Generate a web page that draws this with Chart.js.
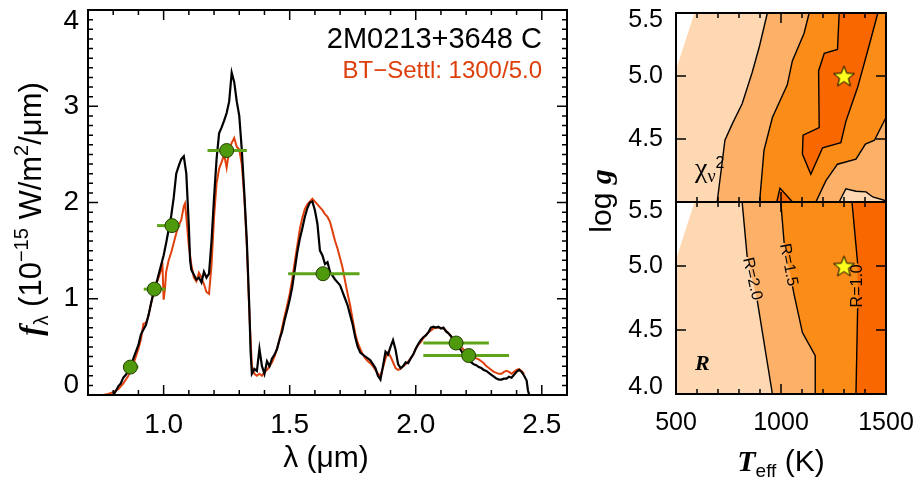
<!DOCTYPE html>
<html>
<head>
<meta charset="utf-8">
<script src="https://cdn.jsdelivr.net/npm/chart.js@4.4.1/dist/chart.umd.min.js"></script>
<style>
  html, body { margin: 0; padding: 0; background: #fff; }
  canvas { position: absolute; left: 0; top: 0; }
</style>
</head>
<body>
<canvas id="specChart" width="921" height="479"></canvas>
<canvas id="chiChart" width="921" height="479"></canvas>
<canvas id="radChart" width="921" height="479"></canvas>
<script>
// ---- spectrum panel data (lambda in micron, flux in 1e-15 W/m2/micron)
const observedSpectrum = [
  [0.80,0.00],[0.81,0.04],[0.82,0.09],[0.83,0.12],[0.84,0.18],[0.85,0.21],[0.86,0.25],[0.87,0.28],
  [0.88,0.38],[0.89,0.45],[0.90,0.52],[0.91,0.63],[0.92,0.68],[0.93,0.73],[0.94,0.83],[0.95,0.95],
  [0.96,1.07],[0.97,1.15],[0.98,1.25],[0.99,1.35],[1.00,1.45],[1.01,1.58],[1.02,1.72],[1.03,1.86],
  [1.04,2.05],[1.05,2.30],[1.06,2.38],[1.07,2.45],[1.08,2.48],[1.09,2.30],[1.10,1.75],[1.105,1.40],
  [1.11,1.30],[1.12,1.25],[1.13,1.20],[1.14,1.22],[1.15,1.17],[1.16,1.28],[1.17,1.22],[1.18,1.26],
  [1.19,1.60],[1.20,2.05],[1.21,2.45],[1.22,2.72],[1.23,2.78],[1.24,2.85],[1.25,2.93],[1.26,3.05],
  [1.27,3.35],[1.28,3.25],[1.29,3.05],[1.30,2.90],[1.31,2.55],[1.32,2.10],[1.33,1.60],[1.34,0.90],
  [1.345,0.45],[1.35,0.22],[1.36,0.27],[1.37,0.25],[1.38,0.48],[1.39,0.30],[1.40,0.22],[1.41,0.35],
  [1.42,0.30],[1.43,0.38],[1.44,0.42],[1.45,0.48],[1.46,0.58],[1.47,0.66],[1.48,0.78],[1.49,0.88],
  [1.50,0.99],[1.51,1.12],[1.52,1.30],[1.53,1.48],[1.54,1.62],[1.55,1.73],[1.56,1.85],[1.57,1.94],
  [1.58,2.00],[1.59,2.01],[1.60,1.92],[1.61,1.78],[1.62,1.50],[1.63,1.45],[1.64,1.36],[1.65,1.38],
  [1.66,1.28],[1.67,1.24],[1.68,1.20],[1.69,1.17],[1.70,1.14],[1.71,1.07],[1.72,1.00],[1.73,0.93],
  [1.74,0.83],[1.75,0.73],[1.76,0.60],[1.77,0.50],[1.78,0.44],[1.79,0.42],[1.80,0.40],[1.81,0.38],
  [1.82,0.36],[1.83,0.32],[1.84,0.28],[1.85,0.20],[1.86,0.16],[1.87,0.30],[1.88,0.45],[1.89,0.42],
  [1.90,0.50],[1.91,0.57],[1.92,0.47],[1.93,0.32],[1.94,0.28],[1.95,0.30],[1.96,0.34],[1.97,0.33],
  [1.98,0.38],[1.99,0.42],[2.00,0.48],[2.01,0.53],[2.02,0.57],[2.03,0.60],[2.04,0.62],[2.05,0.65],
  [2.06,0.70],[2.07,0.71],[2.08,0.70],[2.09,0.71],[2.10,0.69],[2.11,0.70],[2.12,0.66],[2.13,0.64],
  [2.14,0.61],[2.15,0.57],[2.16,0.53],[2.17,0.50],[2.18,0.46],[2.19,0.42],[2.20,0.38],[2.21,0.36],
  [2.22,0.34],[2.23,0.32],[2.24,0.31],[2.25,0.29],[2.26,0.28],[2.27,0.26],[2.28,0.25],[2.29,0.23],
  [2.30,0.21],[2.31,0.19],[2.32,0.17],[2.33,0.16],[2.34,0.16],[2.35,0.17],[2.36,0.17],[2.37,0.19],
  [2.38,0.18],[2.39,0.21],[2.40,0.24],[2.41,0.26],[2.42,0.24],[2.43,0.20],[2.44,0.15],[2.445,0.05],[2.45,0.00]
];
const modelSpectrum = [
  [0.76,0.00],[0.78,0.01],[0.80,0.03],[0.82,0.06],[0.84,0.12],[0.86,0.20],[0.88,0.32],[0.90,0.48],
  [0.91,0.58],[0.92,0.74],[0.93,0.75],[0.94,0.82],[0.95,0.95],[0.96,1.05],[0.97,1.14],[0.98,1.22],
  [0.99,1.30],[0.995,1.38],[1.00,0.99],[1.005,1.10],[1.01,1.28],[1.02,1.40],[1.03,1.48],[1.04,1.58],
  [1.05,1.68],[1.06,1.76],[1.07,1.82],[1.08,1.96],[1.085,1.99],[1.09,1.85],[1.10,1.55],[1.11,1.35],
  [1.12,1.22],[1.13,1.18],[1.14,1.27],[1.15,1.22],[1.16,1.15],[1.17,1.07],[1.18,1.05],[1.19,1.35],
  [1.20,1.85],[1.21,2.20],[1.22,2.35],[1.23,2.42],[1.24,2.50],[1.25,2.36],[1.26,2.55],[1.27,2.62],
  [1.28,2.67],[1.29,2.58],[1.30,2.55],[1.31,2.40],[1.32,2.05],[1.33,1.55],[1.34,0.85],[1.35,0.30],
  [1.36,0.22],[1.37,0.20],[1.38,0.22],[1.39,0.20],[1.40,0.24],[1.41,0.26],[1.42,0.30],[1.43,0.34],
  [1.44,0.40],[1.45,0.48],[1.46,0.58],[1.47,0.70],[1.48,0.82],[1.49,0.93],[1.50,1.05],[1.51,1.20],
  [1.52,1.38],[1.53,1.55],[1.54,1.72],[1.55,1.84],[1.56,1.93],[1.57,1.98],[1.58,2.01],[1.59,2.04],
  [1.60,2.01],[1.61,1.98],[1.62,1.95],[1.63,1.92],[1.64,1.88],[1.65,1.85],[1.66,1.80],[1.67,1.70],
  [1.68,1.60],[1.69,1.52],[1.70,1.42],[1.71,1.32],[1.72,1.18],[1.73,1.05],[1.74,0.93],[1.75,0.78],
  [1.76,0.64],[1.77,0.54],[1.78,0.48],[1.79,0.42],[1.80,0.38],[1.81,0.35],[1.82,0.33],[1.83,0.30],
  [1.84,0.26],[1.85,0.22],[1.86,0.20],[1.87,0.28],[1.88,0.38],[1.89,0.44],[1.90,0.40],[1.91,0.34],
  [1.92,0.28],[1.93,0.26],[1.94,0.27],[1.95,0.30],[1.96,0.32],[1.97,0.35],[1.98,0.38],[1.99,0.42],
  [2.00,0.48],[2.01,0.52],[2.02,0.55],[2.03,0.59],[2.04,0.62],[2.05,0.65],[2.06,0.67],[2.07,0.69],
  [2.08,0.70],[2.09,0.70],[2.10,0.70],[2.11,0.69],[2.12,0.67],[2.13,0.64],[2.14,0.61],[2.15,0.58],
  [2.16,0.55],[2.17,0.52],[2.18,0.50],[2.19,0.47],[2.20,0.44],[2.21,0.42],[2.22,0.40],[2.23,0.39],
  [2.24,0.38],[2.25,0.37],[2.26,0.35],[2.27,0.33],[2.28,0.30],[2.29,0.28],[2.30,0.26],[2.31,0.24],
  [2.32,0.23],[2.33,0.22],[2.34,0.22],[2.35,0.24],[2.36,0.25],[2.37,0.24],[2.38,0.22],[2.39,0.24],
  [2.40,0.26],[2.41,0.27],[2.42,0.25],[2.43,0.22]
];
const photLam  = [0.868, 0.963, 1.033, 1.250, 1.632, 2.160, 2.210];
const photFlux = [0.29, 1.10, 1.76, 2.54, 1.26, 0.54, 0.41];
const photLo   = [0.855, 0.921, 0.974, 1.174, 1.494, 2.030, 2.030];
const photHi   = [0.900, 1.007, 1.066, 1.330, 1.777, 2.290, 2.370];

const specXTicks = [1.0, 1.5, 2.0, 2.5];
const specYTickAt = [0.1, 1, 2, 3, 3.88];
const specYTickText = ['0', '1', '2', '3', '4'];

// ---- grid panels (Teff in K, log g)
const teffTicks = [500, 1000, 1500];
const chiYTickAt = [4.5, 5.0, 5.445];
const chiYTickText = ['4.5', '5.0', '5.5'];
const radYTickAt = [4.05, 4.5, 5.0, 5.43];
const radYTickText = ['4.0', '4.5', '5.0', '5.5'];

const gridOutline = [[500,4.0],[500,5.05],[588,5.5],[1500,5.5],[1500,4.0]];

const chiLineA = [[696,4.0],[733,4.49],[768,4.62],[815,4.78],[863,5.03],[898,5.24],[935,5.5]];
const chiLineB = [[898,4.0],[919,4.41],[959,4.67],[1030,4.93],[1054,5.12],[1110,5.34],[1134,5.5]];
const chiIsland = [[1277,5.5],[1269,5.21],[1206,5.18],[1179,5.04],[1182,4.59],[1105,4.53],[1102,4.38],
  [1142,4.22],[1198,4.43],[1285,4.47],[1309,4.64],[1365,4.91],[1421,5.25],[1461,5.5]];
const chiSpike = [[980,4.0],[995,4.11],[1055,4.0]];
const chiLineD = [[1500,4.67],[1445,4.49],[1402,4.46],[1357,4.34],[1269,4.30],[1214,4.17],[1166,4.0]];
const chiLowPeach = [[1277,4.0],[1309,4.105],[1357,4.085],[1405,4.08],[1437,4.04],[1500,4.01]];

const radLine20 = [[815,5.5],[839,5.07],[887,4.73],[959,4.0]];
const radLine15 = [[999,5.5],[1015,5.18],[1055,4.84],[1062,4.78],[1102,4.48],[1163,4.30],[1163,4.0]];
const radLine10 = [[1338,5.5],[1365,5.02],[1365,4.67],[1357,4.0]];

const bestFit = [[1300, 5.0]];

const SANS = "'Liberation Sans', Arial, sans-serif";
const SERIF = "'Liberation Serif', 'Times New Roman', serif";
const PEACH = '#FDD8B2', LIGHT = '#FDB068', MID = '#FC8C18', DARK = '#F86700';

const pts = arr => arr.map(([x, y]) => ({ x, y }));
const rightOf = line => line.concat([[1500, line[line.length - 1][1]], [1500, line[0][1]]]);
const range = (a, b, s) => { const out = []; for (let v = a; v <= b + s / 2; v += s) out.push(+v.toFixed(4)); return out; };

function drawRich(ctx, parts, x, y, angle, align) {
  ctx.save();
  ctx.translate(x, y);
  ctx.rotate(angle);
  ctx.textBaseline = 'alphabetic';
  ctx.textAlign = 'left';
  let w = 0;
  parts.forEach(p => { ctx.font = p.font; w += ctx.measureText(p.t).width; });
  let cx = align === 'center' ? -w / 2 : align === 'right' ? -w : 0;
  parts.forEach(p => {
    ctx.font = p.font;
    ctx.fillStyle = p.color || '#000';
    ctx.fillText(p.t, cx, p.dy || 0);
    cx += ctx.measureText(p.t).width;
  });
  ctx.restore();
}

// inward ticks + box, drawn from the chart's scales
function makeFrame(cfg) {
  return {
    id: 'frame',
    afterDatasetsDraw(chart) {
      const { ctx, chartArea: a, scales: { x, y } } = chart;
      ctx.save();
      ctx.strokeStyle = '#000';
      ctx.lineWidth = 1.5;
      ctx.beginPath();
      const xt = (vals, len) => vals.forEach(v => {
        const px = x.getPixelForValue(v);
        ctx.moveTo(px, a.bottom); ctx.lineTo(px, a.bottom - len);
        ctx.moveTo(px, a.top); ctx.lineTo(px, a.top + len);
      });
      const yt = (vals, len) => vals.forEach(v => {
        const py = y.getPixelForValue(v);
        ctx.moveTo(a.left, py); ctx.lineTo(a.left + len, py);
        ctx.moveTo(a.right, py); ctx.lineTo(a.right - len, py);
      });
      xt(cfg.xMinor || [], 5); xt(cfg.xMajor || [], 10);
      yt(cfg.yMinor || [], 5); yt(cfg.yMajor || [], 10);
      ctx.stroke();
      ctx.lineWidth = 2;
      ctx.strokeRect(a.left, a.top, a.width, a.height);
      ctx.restore();
    }
  };
}

function makeNotes(items, lineLabels) {
  return {
    id: 'notes',
    afterDraw(chart) {
      const { ctx, scales: { x, y } } = chart;
      items.forEach(it => {
        const px = it.data ? x.getPixelForValue(it.x) : it.x;
        const py = it.data ? y.getPixelForValue(it.y) : it.y;
        drawRich(ctx, it.parts, px, py, it.angle || 0, it.align || 'left');
      });
      (lineLabels || []).forEach(lb => {
        const x1 = x.getPixelForValue(lb.from[0]), y1 = y.getPixelForValue(lb.from[1]);
        const x2 = x.getPixelForValue(lb.to[0]), y2 = y.getPixelForValue(lb.to[1]);
        ctx.save();
        ctx.translate((x1 + x2) / 2, (y1 + y2) / 2);
        ctx.rotate(Math.atan2(y2 - y1, x2 - x1));
        ctx.font = '16px ' + SANS;
        ctx.fillStyle = '#000';
        ctx.textAlign = 'center';
        ctx.textBaseline = 'middle';
        ctx.fillText(lb.text, 0, 0);
        ctx.restore();
      });
    }
  };
}

function starImage(size) {
  const c = document.createElement('canvas');
  c.width = c.height = size;
  const g = c.getContext('2d');
  const r = size / 2 - 1.5, r2 = r * 0.42;
  g.beginPath();
  for (let i = 0; i < 10; i++) {
    const rr = i % 2 ? r2 : r, ang = -Math.PI / 2 + i * Math.PI / 5;
    g.lineTo(size / 2 + rr * Math.cos(ang), size / 2 + 1 + rr * Math.sin(ang));
  }
  g.closePath();
  g.fillStyle = '#FFFF1E';
  g.fill();
  g.strokeStyle = '#000';
  g.lineWidth = 1;
  g.stroke();
  return c;
}
const star = starImage(25);

function withOrder(list) {
  return list.map((d, i) => Object.assign({ order: list.length - i, pointRadius: 0, tension: 0 }, d));
}
const polygon = (arr, color) => ({ data: pts(arr), fill: 'shape', backgroundColor: color, borderColor: 'rgba(0,0,0,0)', borderWidth: 0 });
const contour = (arr, gap) => ({
  data: pts(arr), fill: false, borderColor: '#000', borderWidth: 1.4,
  segment: gap === undefined ? undefined : { borderColor: c => c.p0DataIndex === gap ? 'rgba(0,0,0,0)' : '#000' }
});
const starSet = { data: pts(bestFit), showLine: false, pointStyle: star, pointRadius: 12 };

const noPad = s => { s.paddingTop = 0; s.paddingBottom = 0; s.paddingLeft = 0; s.paddingRight = 0; };
const baseOpts = {
  responsive: false, animation: false, events: [],
  plugins: { legend: { display: false }, tooltip: { enabled: false } }
};

// ---------------- spectrum
const specSets = [
  { data: pts(modelSpectrum), borderColor: '#E0400B', borderWidth: 2 },
  { data: pts(observedSpectrum), borderColor: '#000', borderWidth: 2.2 }
];
photLam.forEach((l, i) => specSets.push({
  data: [{ x: photLo[i], y: photFlux[i] }, { x: photHi[i], y: photFlux[i] }],
  borderColor: '#5FA318', borderWidth: 3
}));
specSets.push({
  data: photLam.map((l, i) => ({ x: l, y: photFlux[i] })), showLine: false,
  pointRadius: 7, pointBackgroundColor: '#4E9A0C', pointBorderColor: '#233F00', pointBorderWidth: 1
});

new Chart(document.getElementById('specChart'), {
  type: 'line',
  data: { datasets: withOrder(specSets) },
  options: Object.assign({}, baseOpts, {
    layout: { padding: { top: 10, right: 921 - 567, left: 0, bottom: 0 } },
    scales: {
      x: {
        type: 'linear', min: 0.7, max: 2.6,
        afterBuildTicks: s => { s.ticks = specXTicks.map(v => ({ value: v })); },
        afterFit: s => { s.height = 479 - 395; noPad(s); },
        grid: { display: false, drawTicks: false }, border: { display: false },
        ticks: { font: { size: 28, family: SANS }, color: '#000', padding: 13, maxRotation: 0, autoSkip: false,
                 callback: v => v.toFixed(1) }
      },
      y: {
        type: 'linear', min: 0, max: 4,
        afterBuildTicks: s => { s.ticks = specYTickAt.map(v => ({ value: v })); },
        afterFit: s => { s.width = 88; noPad(s); },
        grid: { display: false, drawTicks: false }, border: { display: false },
        ticks: { font: { size: 28, family: SANS }, color: '#000', padding: 9, autoSkip: false,
                 callback: (v, i) => specYTickText[i] }
      }
    }
  }),
  plugins: [
    makeFrame({ xMajor: specXTicks, xMinor: range(0.7, 2.6, 0.1), yMajor: [1, 2, 3], yMinor: range(0, 4, 0.1) }),
    makeNotes([
      { x: 542, y: 48, align: 'right', parts: [{ t: '2M0213+3648 C', font: '29px ' + SANS }] },
      { x: 542, y: 78, align: 'right', parts: [{ t: 'BT\u2212Settl: 1300/5.0', font: '24px ' + SANS, color: '#DD3F0A' }] },
      { x: 326, y: 467, align: 'center', parts: [{ t: '\u03bb (\u03bcm)', font: '30px ' + SANS }] },
      { x: 41, y: 209, align: 'center', angle: -Math.PI / 2, parts: [
        { t: 'f', font: 'italic bold 31px ' + SERIF },
        { t: '\u03bb', font: '20px ' + SANS, dy: 7 },
        { t: ' (10', font: '31px ' + SANS },
        { t: '\u221215', font: '20px ' + SANS, dy: -13 },
        { t: ' W/m', font: '31px ' + SANS },
        { t: '2', font: '20px ' + SANS, dy: -13 },
        { t: '/\u03bcm)', font: '31px ' + SANS }
      ] }
    ])
  ]
});

// ---------------- chi2 grid (top right)
const chiSets = [
  polygon(gridOutline, PEACH),
  polygon(rightOf(chiLineA), LIGHT),
  polygon(rightOf(chiLineB), MID),
  polygon(chiIsland, DARK),
  polygon(chiSpike, DARK),
  polygon(rightOf(chiLineD), LIGHT),
  polygon(rightOf(chiLowPeach), PEACH),
  contour(chiLineA), contour(chiLineB), contour(chiIsland), contour(chiSpike),
  contour(chiLineD), contour(chiLowPeach),
  starSet
];

const gridScales = (yAt, yText, showX) => ({
  x: {
    type: 'linear', min: 500, max: 1500, display: showX,
    afterBuildTicks: s => { s.ticks = teffTicks.map(v => ({ value: v })); },
    afterFit: s => { s.height = showX ? 479 - 394 : 0; noPad(s); },
    grid: { display: false, drawTicks: false }, border: { display: false },
    ticks: { font: { size: 25, family: SANS }, color: '#000', padding: 14, maxRotation: 0, autoSkip: false,
             callback: v => String(v) }
  },
  y: {
    type: 'linear', min: 4.0, max: 5.5,
    afterBuildTicks: s => { s.ticks = yAt.map(v => ({ value: v })); },
    afterFit: s => { s.width = 76; noPad(s); },
    grid: { display: false, drawTicks: false }, border: { display: false },
    ticks: { font: { size: 25, family: SANS }, color: '#000', padding: 13, autoSkip: false,
             callback: (v, i) => yText[i] }
  }
});

new Chart(document.getElementById('chiChart'), {
  type: 'line',
  data: { datasets: withOrder(chiSets) },
  options: Object.assign({}, baseOpts, {
    layout: { padding: { top: 10, right: 921 - 886, left: 600, bottom: 479 - 202 } },
    scales: gridScales(chiYTickAt, chiYTickText, false)
  }),
  plugins: [
    makeFrame({ xMinor: range(500, 1500, 100), xMajor: teffTicks, yMajor: [4.5, 5.0] }),
    makeNotes([
      { x: 695, y: 177, parts: [
        { t: '\u03c7', font: '28px ' + SERIF },
        { t: '\u03bd', font: '18px ' + SERIF, dy: 5 },
        { t: '2', font: '16px ' + SANS, dy: -9 }
      ] }
    ])
  ]
});

// ---------------- radius grid (bottom right)
const radSets = [
  polygon(gridOutline, PEACH),
  polygon(rightOf(radLine20), LIGHT),
  polygon(rightOf(radLine15), MID),
  polygon(rightOf(radLine10), DARK),
  contour(radLine20, 1), contour(radLine15, 1), contour(radLine10, 1),
  starSet
];

new Chart(document.getElementById('radChart'), {
  type: 'line',
  data: { datasets: withOrder(radSets) },
  options: Object.assign({}, baseOpts, {
    layout: { padding: { top: 202, right: 921 - 886, left: 600, bottom: 0 } },
    scales: gridScales(radYTickAt, radYTickText, true)
  }),
  plugins: [
    makeFrame({ xMinor: range(500, 1500, 100), xMajor: teffTicks, yMajor: [4.5, 5.0] }),
    makeNotes([
      { x: 695, y: 370, parts: [{ t: 'R', font: 'italic bold 22px ' + SERIF }] },
      { x: 611, y: 201, align: 'center', angle: -Math.PI / 2, parts: [
        { t: 'log ', font: '30px ' + SANS },
        { t: 'g', font: 'italic bold 30px ' + SERIF }
      ] },
      { x: 781, y: 471, align: 'center', parts: [
        { t: 'T', font: 'italic bold 30px ' + SERIF },
        { t: 'eff', font: '19px ' + SANS, dy: 6 },
        { t: ' (K)', font: '30px ' + SANS }
      ] }
    ], [
      { text: 'R=2.0', from: radLine20[1], to: radLine20[2] },
      { text: 'R=1.5', from: radLine15[1], to: radLine15[2] },
      { text: 'R=1.0', from: radLine10[2], to: radLine10[1] }
    ])
  ]
});
</script>
</body>
</html>
